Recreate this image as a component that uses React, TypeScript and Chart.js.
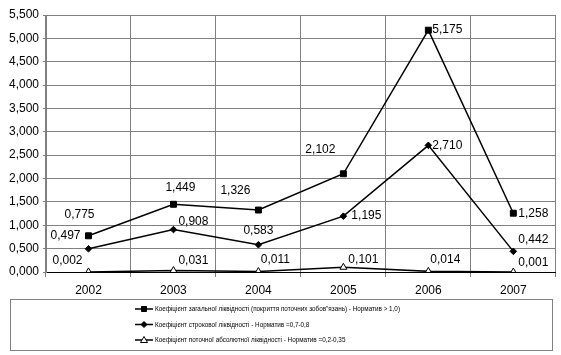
import React, { useEffect, useRef } from "react";
import { Chart, registerables } from "chart.js";

Chart.register(...registerables);

const categories = ["2002", "2003", "2004", "2005", "2006", "2007"];
const seriesNames = [
  "Коефіцієнт загальної ліквідності (покриття поточних зобов\"язань) - Норматив > 1,0)",
  "Коефіцієнт строкової ліквідності - Норматив =0,7-0,8",
  "Коефіцієнт поточної абсолютної ліквідності - Норматив =0,2-0,35",
];
const generalLiquidity = [0.775, 1.449, 1.326, 2.102, 5.175, 1.258];
const quickLiquidity = [0.497, 0.908, 0.583, 1.195, 2.71, 0.442];
const absoluteLiquidity = [0.002, 0.031, 0.011, 0.101, 0.014, 0.001];

// label placement (dx, dy from point), style only
const labelOffsets: [number, number][][] = [
  [[-9, -21], [7, -17], [-23, -19], [-23, -24], [19, 0], [20, 0]],
  [[-23, -13], [20, -8], [0, -14], [23, 0], [19, 0], [20, -12]],
  [[-21, -11], [20, -10], [17, -12], [20, -8], [17, -12], [20, -9]],
];

const fmt = (v: number) => v.toFixed(3).replace(".", ",");
const FONT = "'Liberation Sans', Arial, sans-serif";

const labelsPlugin = {
  id: "valueLabels",
  afterDatasetsDraw(chart: any) {
    const ctx = chart.ctx;
    ctx.save();
    ctx.font = `12px ${FONT}`;
    ctx.fillStyle = "#000";
    ctx.textAlign = "center";
    ctx.textBaseline = "middle";
    chart.data.datasets.forEach((ds: any, i: number) => {
      const meta = chart.getDatasetMeta(i);
      meta.data.forEach((pt: any, j: number) => {
        const [dx, dy] = labelOffsets[i][j];
        ctx.fillText(fmt(ds.data[j]), pt.x + dx, pt.y + dy);
      });
    });
    ctx.restore();
  },
};

const legendPlugin = {
  id: "boxLegend",
  afterDraw(chart: any) {
    const ctx = chart.ctx;
    ctx.save();
    ctx.strokeStyle = "#808080";
    ctx.lineWidth = 1;
    ctx.strokeRect(10.5, 299.5, 542, 51);
    const rows = [309, 324.5, 340];
    ctx.font = `8px ${FONT}`;
    const squeeze = 245 / ctx.measureText(seriesNames[0]).width;
    chart.data.datasets.forEach((ds: any, i: number) => {
      const y = rows[i];
      ctx.strokeStyle = "#000";
      ctx.lineWidth = 1.5;
      ctx.beginPath();
      ctx.moveTo(135, y);
      ctx.lineTo(153, y);
      ctx.stroke();
      ctx.lineWidth = 1;
      ctx.fillStyle = ds.pointBackgroundColor;
      ctx.beginPath();
      if (ds.pointStyle === "rect") {
        ctx.rect(141.5, y - 2.5, 5, 5);
      } else if (ds.pointStyle === "rectRot") {
        ctx.moveTo(144, y - 3);
        ctx.lineTo(147, y);
        ctx.lineTo(144, y + 3);
        ctx.lineTo(141, y);
        ctx.closePath();
      } else {
        ctx.moveTo(144, y - 3.5);
        ctx.lineTo(147.5, y + 2.5);
        ctx.lineTo(140.5, y + 2.5);
        ctx.closePath();
      }
      ctx.fill();
      ctx.stroke();
      ctx.fillStyle = "#000";
      ctx.font = `8px ${FONT}`;
      ctx.textAlign = "left";
      ctx.textBaseline = "middle";
      const w = ctx.measureText(seriesNames[i]).width * squeeze;
      ctx.fillText(seriesNames[i], 155, y, w);
    });
    ctx.restore();
  },
};

export default function App() {
  const ref = useRef<HTMLCanvasElement>(null);
  useEffect(() => {
    if (!ref.current) return;
    const chart = new Chart(ref.current, {
      type: "line",
      data: {
        labels: categories,
        datasets: [
          {
            label: seriesNames[0],
            data: generalLiquidity,
            borderColor: "#000",
            borderWidth: 1.5,
            pointStyle: "rect",
            pointRadius: 4.2,
            pointBackgroundColor: "#000",
            pointBorderColor: "#000",
            pointBorderWidth: 1,
            tension: 0,
          },
          {
            label: seriesNames[1],
            data: quickLiquidity,
            borderColor: "#000",
            borderWidth: 1.5,
            pointStyle: "rectRot",
            pointRadius: 3.3,
            pointBackgroundColor: "#000",
            pointBorderColor: "#000",
            pointBorderWidth: 1,
            tension: 0,
          },
          {
            label: seriesNames[2],
            data: absoluteLiquidity,
            borderColor: "#000",
            borderWidth: 1.5,
            pointStyle: "triangle",
            pointRadius: 4,
            pointBackgroundColor: "#fff",
            pointBorderColor: "#000",
            pointBorderWidth: 1,
            tension: 0,
          },
        ],
      },
      options: {
        responsive: false,
        animation: false,
        layout: { padding: { left: 0, right: 3, top: 15, bottom: 53 } },
        plugins: { legend: { display: false }, tooltip: { enabled: false } },
        scales: {
          x: {
            offset: true,
            grid: { offset: true, color: "#808080", tickLength: 5, lineWidth: 1 },
            border: { color: "#000", width: 1 },
            ticks: { color: "#000", font: { family: FONT, size: 12 }, padding: 6 },
            afterFit: (s: any) => { s.height = 30; },
          },
          y: {
            min: 0,
            max: 5.5,
            grid: { color: "#808080", tickLength: 3, lineWidth: 1 },
            border: { color: "#808080", width: 1 },
            ticks: {
              stepSize: 0.5,
              color: "#000",
              font: { family: FONT, size: 12 },
              padding: 4,
              callback: (v: any) => fmt(Number(v)),
            },
            afterFit: (s: any) => { s.width = 46; },
          },
        },
      },
      plugins: [labelsPlugin, legendPlugin],
    });
    return () => chart.destroy();
  }, []);
  return (
    <div style={{ position: "fixed", left: 0, top: 0, width: 561, height: 355, background: "#fff" }}>
      <canvas ref={ref} width={561} height={355} style={{ display: "block" }} />
    </div>
  );
}
